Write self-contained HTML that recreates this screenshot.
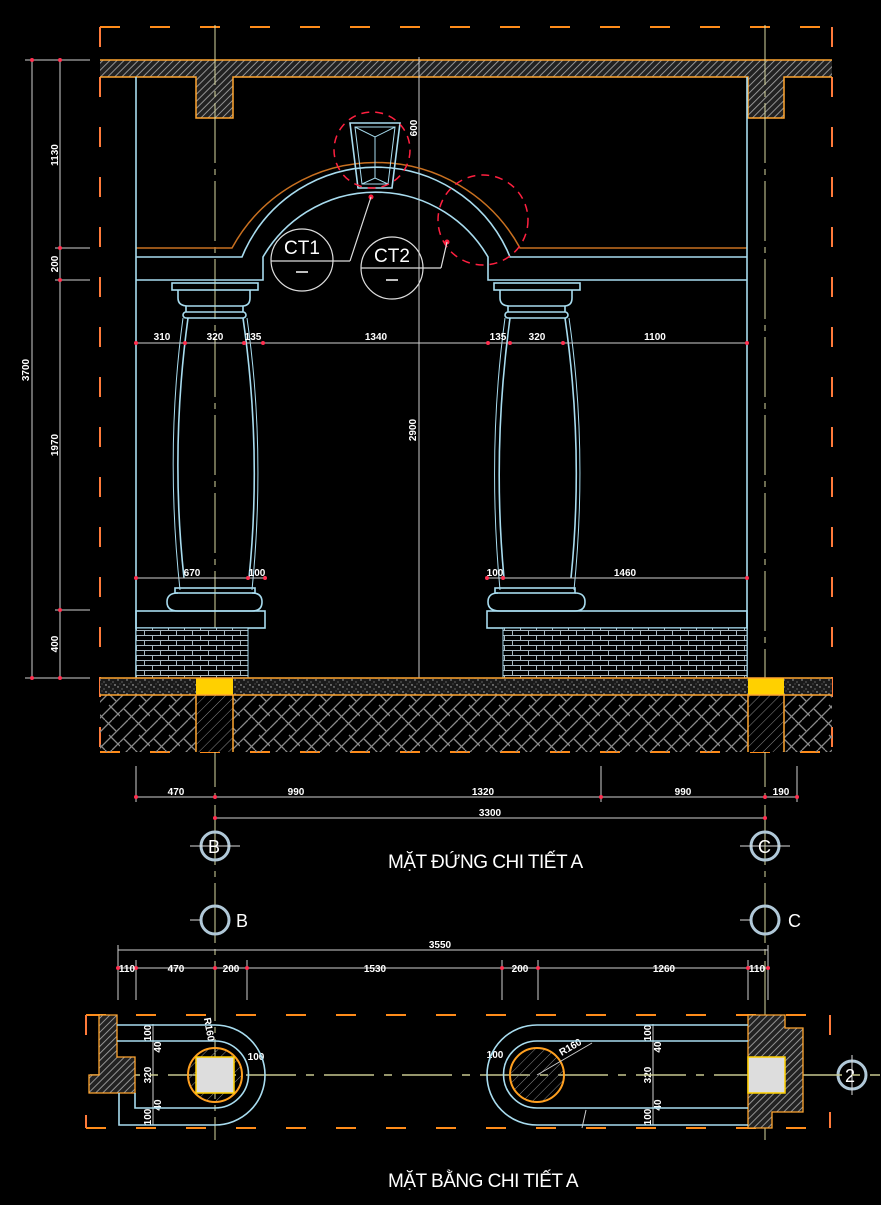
<!DOCTYPE html>
<html><head><meta charset="utf-8"><style>
html,body{margin:0;padding:0;background:#000;}
svg{display:block}
text{font-family:"Liberation Sans",Arial,sans-serif;fill:#fff}
</style></head><body>
<svg width="881" height="1205" viewBox="0 0 881 1205" xmlns="http://www.w3.org/2000/svg">
<defs>
<pattern id="hat" width="5" height="5" patternUnits="userSpaceOnUse" patternTransform="rotate(45)">
<rect width="5" height="5" fill="#222"/><line x1="0" y1="0" x2="0" y2="5" stroke="#a0a0a0" stroke-width="1.8"/></pattern>
<pattern id="hat2" width="7" height="7" patternUnits="userSpaceOnUse" patternTransform="rotate(45)">
<line x1="0" y1="0" x2="0" y2="7" stroke="#888" stroke-width="1"/></pattern>
<pattern id="herr" width="30" height="30" patternUnits="userSpaceOnUse">
<g stroke="#8a8a8a" stroke-width="1.3" fill="none">
<path d="M0 8 L8 0 M0 22 L22 0 M8 30 L30 8 M22 30 L30 22"/>
<path d="M4 19 L15 30 M15 0 L26 11 M19 15 L30 26"/>
</g></pattern>
<pattern id="spk" width="9" height="7" patternUnits="userSpaceOnUse">
<rect width="9" height="7" fill="#1a1a1a"/>
<circle cx="1" cy="1" r="0.7" fill="#bbb"/><circle cx="5" cy="3" r="0.6" fill="#999"/><circle cx="7" cy="6" r="0.7" fill="#ccc"/><circle cx="3" cy="5" r="0.5" fill="#888"/></pattern>
<pattern id="brk" width="16" height="10" patternUnits="userSpaceOnUse">
<rect width="16" height="10" fill="#000"/>
<g stroke="#a8b8c0" stroke-width="1"><line x1="0" y1="0.5" x2="16" y2="0.5"/><line x1="0" y1="5.5" x2="16" y2="5.5"/>
<line x1="0.5" y1="0" x2="0.5" y2="5"/><line x1="8.5" y1="5" x2="8.5" y2="10"/></g></pattern>
</defs>

<g stroke="#ff8c1a" stroke-width="2" fill="none" stroke-dasharray="20,30">
<line x1="100" y1="27" x2="832" y2="27"/>
<line x1="100" y1="752" x2="832" y2="752"/>
</g>
<g stroke="#ff7a3a" stroke-width="2" fill="none" stroke-dasharray="20,30">
<line x1="100" y1="27" x2="100" y2="752"/>
<line x1="832" y1="27" x2="832" y2="752"/>
</g>
<rect x="100" y="60" width="732" height="17" fill="url(#hat)"/>
<rect x="196" y="77" width="37" height="41" fill="url(#hat)"/>
<rect x="748" y="77" width="36" height="41" fill="url(#hat)"/>
<g stroke="#ffa530" stroke-width="1.5" fill="none">
<line x1="100" y1="60" x2="832" y2="60"/>
<polyline points="100,77 196,77 196,118 233,118 233,77 748,77 748,118 784,118 784,77 832,77"/>
</g>
<g stroke="#d8d8a0" stroke-width="1" stroke-dasharray="60,6,6,6">
<line x1="215" y1="25" x2="215" y2="1140"/>
<line x1="765" y1="25" x2="765" y2="1140"/>
</g>
<line x1="419" y1="57" x2="419" y2="680" stroke="#ccc" stroke-width="1"/>

<path d="M136 248 L232 248 A164 164 0 0 1 520 248 L747 248" stroke="#c87020" stroke-width="1.5" fill="none"/>
<g stroke="#a8dcef" stroke-width="1.6" fill="none">
<line x1="136" y1="77" x2="136" y2="678"/>
<line x1="747" y1="77" x2="747" y2="678"/>
<path d="M136 257 L242 257 L245 250 A145 145 0 0 1 507 250 L510 257 L747 257"/>
<path d="M136 280 L263 280 L263 257 A130 130 0 0 1 488 257 L488 280 L747 280"/>
<rect x="172" y="283" width="86" height="7"/>
<path d="M178 290 L178 298 Q178 306 188 306 L242 306 Q250 306 250 298 L250 290"/>
<rect x="183" y="312" width="63" height="6" rx="3"/>
<line x1="186" y1="306" x2="186" y2="312"/><line x1="243" y1="306" x2="243" y2="312"/>
<path d="M188 318 Q170 450 184 578 M243 318 Q262 450 249 578"/>
<path d="M183 318 Q165 450 180 590 M247 318 Q266 450 252 590" stroke-width="1"/>
<rect x="175" y="588" width="80" height="5"/>
<path d="M178 593 Q167 593 167 602 Q167 611 178 611 L252 611 Q262 611 262 602 Q262 593 252 593"/>
<rect x="136" y="611" width="129" height="17"/>
<rect x="494" y="283" width="86" height="7"/>
<path d="M500 290 L500 298 Q500 306 510 306 L564 306 Q572 306 572 298 L572 290"/>
<rect x="505" y="312" width="63" height="6" rx="3"/>
<line x1="508" y1="306" x2="508" y2="312"/><line x1="565" y1="306" x2="565" y2="312"/>
<path d="M510 318 Q492 450 504 578 M565 318 Q584 450 571 578"/>
<path d="M505 318 Q487 450 500 590 M569 318 Q588 450 574 590" stroke-width="1"/>
<rect x="495" y="588" width="80" height="5"/>
<path d="M498 593 Q488 593 488 602 Q488 611 500 611 L575 611 Q585 611 585 602 Q585 593 575 593"/>
<rect x="487" y="611" width="260" height="17"/>
<path d="M350 123 L400 123 L392 188 L358 188 Z"/>
<path d="M355 127 L395 127 L388 184 L362 184 Z" stroke-width="1"/>
<path d="M355 127 L375 137 L395 127 M375 137 L375 178 M362 184 L375 178 L388 184" stroke-width="1"/>
</g>
<rect x="136" y="628" width="112" height="50" fill="url(#brk)" stroke="#a8dcef"/>
<rect x="503" y="628" width="244" height="50" fill="url(#brk)" stroke="#a8dcef"/>

<g stroke="#ff2040" stroke-width="1.5" fill="none" stroke-dasharray="8,6">
<circle cx="372" cy="150" r="38"/>
<circle cx="483" cy="220" r="45"/>
</g>
<circle cx="371" cy="197" r="2.5" fill="#ff2040"/>
<circle cx="447" cy="242" r="2.5" fill="#ff2040"/>
<g stroke="#ddd" stroke-width="1.2" fill="none">
<circle cx="302" cy="260" r="31"/><line x1="271" y1="261" x2="350" y2="261"/><polyline points="350,261 371,197"/>
<circle cx="392" cy="268" r="31"/><line x1="361" y1="268" x2="441" y2="268"/><polyline points="441,268 447,242"/>
</g>
<text x="302" y="254" font-size="19" text-anchor="middle">CT1</text>
<line x1="296" y1="272" x2="308" y2="272" stroke="#fff" stroke-width="1.5"/>
<text x="392" y="262" font-size="19" text-anchor="middle">CT2</text>
<line x1="386" y1="280" x2="398" y2="280" stroke="#fff" stroke-width="1.5"/>
<text transform="translate(417,128) rotate(-90)" font-size="10" font-weight="bold" text-anchor="middle">600</text>

<rect x="100" y="678" width="732" height="17" fill="url(#spk)"/>
<rect x="100" y="695" width="732" height="57" fill="url(#herr)"/>
<rect x="196" y="695" width="37" height="57" fill="#000"/><rect x="196" y="695" width="37" height="57" fill="url(#hat2)"/>
<rect x="748" y="695" width="36" height="57" fill="#000"/><rect x="748" y="695" width="36" height="57" fill="url(#hat2)"/>
<rect x="196" y="678" width="37" height="17" fill="#ffd000"/>
<rect x="748" y="678" width="36" height="17" fill="#ffd000"/>
<g stroke="#ffa530" stroke-width="1.5" fill="none">
<line x1="100" y1="678" x2="832" y2="678"/><line x1="100" y1="695" x2="832" y2="695"/>
<line x1="196" y1="695" x2="196" y2="752"/><line x1="233" y1="695" x2="233" y2="752"/>
<line x1="748" y1="695" x2="748" y2="752"/><line x1="784" y1="695" x2="784" y2="752"/>
</g>

<g stroke="#cfcfcf" stroke-width="1" fill="none">
<line x1="136" y1="343" x2="747" y2="343"/>
<line x1="136" y1="578" x2="265" y2="578"/><line x1="487" y1="578" x2="747" y2="578"/>
<line x1="32" y1="60" x2="32" y2="678"/><line x1="60" y1="60" x2="60" y2="678"/>
<line x1="25" y1="60" x2="90" y2="60"/><line x1="25" y1="678" x2="90" y2="678"/>
<line x1="55" y1="248" x2="90" y2="248"/><line x1="55" y1="280" x2="90" y2="280"/><line x1="55" y1="610" x2="90" y2="610"/>
<line x1="136" y1="797" x2="797" y2="797"/><line x1="215" y1="818" x2="765" y2="818"/>
<line x1="136" y1="766" x2="136" y2="802"/><line x1="601" y1="766" x2="601" y2="802"/><line x1="797" y1="766" x2="797" y2="802"/>
<line x1="118" y1="950" x2="768" y2="950"/><line x1="118" y1="968" x2="768" y2="968"/>
<line x1="118" y1="945" x2="118" y2="1000"/><line x1="136" y1="960" x2="136" y2="1000"/><line x1="247" y1="960" x2="247" y2="1000"/>
<line x1="502" y1="960" x2="502" y2="1000"/><line x1="538" y1="960" x2="538" y2="1000"/><line x1="748" y1="960" x2="748" y2="1000"/><line x1="768" y1="945" x2="768" y2="1000"/>
<line x1="153" y1="1024" x2="153" y2="1125"/><line x1="653" y1="1024" x2="653" y2="1125"/>
</g>
<g fill="#ff3050">
<circle cx="136" cy="343" r="2"/><circle cx="185" cy="343" r="2"/><circle cx="244" cy="343" r="2"/><circle cx="263" cy="343" r="2"/><circle cx="488" cy="343" r="2"/><circle cx="510" cy="343" r="2"/><circle cx="563" cy="343" r="2"/><circle cx="747" cy="343" r="2"/>
<circle cx="136" cy="578" r="2"/><circle cx="248" cy="578" r="2"/><circle cx="265" cy="578" r="2"/><circle cx="487" cy="578" r="2"/><circle cx="503" cy="578" r="2"/><circle cx="747" cy="578" r="2"/>
<circle cx="32" cy="60" r="2"/><circle cx="32" cy="678" r="2"/><circle cx="60" cy="60" r="2"/><circle cx="60" cy="248" r="2"/><circle cx="60" cy="280" r="2"/><circle cx="60" cy="610" r="2"/><circle cx="60" cy="678" r="2"/>
<circle cx="136" cy="797" r="2"/><circle cx="215" cy="797" r="2"/><circle cx="601" cy="797" r="2"/><circle cx="765" cy="797" r="2"/><circle cx="797" cy="797" r="2"/><circle cx="215" cy="818" r="2"/><circle cx="765" cy="818" r="2"/>
<circle cx="118" cy="968" r="2"/><circle cx="136" cy="968" r="2"/><circle cx="215" cy="968" r="2"/><circle cx="247" cy="968" r="2"/><circle cx="502" cy="968" r="2"/><circle cx="538" cy="968" r="2"/><circle cx="748" cy="968" r="2"/><circle cx="768" cy="968" r="2"/>
</g>
<g font-size="10" font-weight="bold" text-anchor="middle">
<text x="162" y="340">310</text><text x="215" y="340">320</text><text x="253" y="340">135</text><text x="376" y="340">1340</text>
<text x="498" y="340">135</text><text x="537" y="340">320</text><text x="655" y="340">1100</text>
<text x="192" y="576">670</text><text x="257" y="576">100</text><text x="495" y="576">100</text><text x="625" y="576">1460</text>
<text x="176" y="795">470</text><text x="296" y="795">990</text><text x="483" y="795">1320</text><text x="683" y="795">990</text><text x="781" y="795">190</text>
<text x="490" y="816">3300</text>
<text x="440" y="948">3550</text>
<text x="127" y="972">110</text><text x="176" y="972">470</text><text x="231" y="972">200</text><text x="375" y="972">1530</text><text x="520" y="972">200</text><text x="664" y="972">1260</text><text x="757" y="972">110</text>
<text transform="translate(29,370) rotate(-90)">3700</text>
<text transform="translate(58,155) rotate(-90)">1130</text>
<text transform="translate(58,264) rotate(-90)">200</text>
<text transform="translate(58,445) rotate(-90)">1970</text>
<text transform="translate(58,644) rotate(-90)">400</text>
<text transform="translate(416,430) rotate(-90)">2900</text>
<text transform="translate(151,1033) rotate(-90)">100</text><text transform="translate(161,1047) rotate(-90)">40</text>
<text transform="translate(151,1075) rotate(-90)">320</text><text transform="translate(161,1105) rotate(-90)">40</text><text transform="translate(151,1117) rotate(-90)">100</text>
<text transform="translate(651,1033) rotate(-90)">100</text><text transform="translate(661,1047) rotate(-90)">40</text>
<text transform="translate(651,1075) rotate(-90)">320</text><text transform="translate(661,1105) rotate(-90)">40</text><text transform="translate(651,1117) rotate(-90)">100</text>
<text x="256" y="1060">100</text><text x="495" y="1058">100</text>
<text transform="translate(206,1030) rotate(80)">R160</text>
<text transform="translate(572,1050) rotate(-30)">R160</text>
</g>

<g stroke="#b0c8d8" stroke-width="3" fill="none">
<circle cx="215" cy="846" r="14"/><circle cx="765" cy="846" r="14"/>
<circle cx="215" cy="920" r="14"/><circle cx="765" cy="920" r="14"/>
<circle cx="852" cy="1075" r="14"/>
</g>
<g stroke="#ddd" stroke-width="1">
<line x1="190" y1="846" x2="240" y2="846"/><line x1="740" y1="846" x2="790" y2="846"/>
<line x1="190" y1="920" x2="200" y2="920"/><line x1="740" y1="920" x2="750" y2="920"/>
<line x1="852" y1="1055" x2="852" y2="1095"/>
</g>
<g font-size="18">
<text x="208" y="853">B</text><text x="758" y="853">C</text>
<text x="236" y="927">B</text><text x="788" y="927">C</text>
<text x="845" y="1082">2</text>
</g>
<text x="388" y="868" font-size="19" letter-spacing="-0.5">MẶT ĐỨNG CHI TIẾT A</text>
<text x="388" y="1187" font-size="19" letter-spacing="-0.5">MẶT BẰNG CHI TIẾT A</text>

<g stroke="#ff8c1a" stroke-width="2" fill="none" stroke-dasharray="20,30">
<line x1="86" y1="1015" x2="832" y2="1015"/><line x1="86" y1="1128" x2="832" y2="1128"/>
</g>
<g stroke="#ff7a3a" stroke-width="2">
<line x1="86" y1="1015" x2="86" y2="1035"/><line x1="86" y1="1115" x2="86" y2="1128"/>
<line x1="830" y1="1015" x2="830" y2="1035"/><line x1="830" y1="1112" x2="830" y2="1128"/>
</g>
<line x1="90" y1="1075" x2="880" y2="1075" stroke="#c8c890" stroke-width="1.5" stroke-dasharray="50,10,8,10"/>
<path d="M99 1015 L117 1015 L117 1057 L135 1057 L135 1093 L89 1093 L89 1075 L99 1075 Z" fill="url(#hat)" stroke="#ffa530" stroke-width="1.3"/>
<path d="M748 1015 L785 1015 L785 1028 L803 1028 L803 1112 L772 1112 L772 1128 L748 1128 Z" fill="url(#hat)" stroke="#ffa530" stroke-width="1.3"/>
<g stroke="#a8dcef" stroke-width="1.6" fill="none">
<path d="M119 1093 L119 1125 L215 1125 A50 50 0 0 0 215 1025 L117 1025"/>
<path d="M135 1093 L135 1108 L215 1108 A33 33 0 0 0 215 1041 L117 1041"/>
<path d="M748 1025 L537 1025 A50 50 0 0 0 537 1125 L748 1125"/>
<path d="M748 1041 L537 1041 A33 33 0 0 0 537 1108 L748 1108"/>
</g>
<circle cx="215" cy="1075" r="27" fill="url(#hat2)" stroke="#ffa020" stroke-width="2"/>
<rect x="196" y="1057" width="38" height="36" fill="#ddd" stroke="#ffd000" stroke-width="1.5"/>
<circle cx="537" cy="1075" r="27" fill="url(#hat2)" stroke="#ffa020" stroke-width="2"/>
<rect x="748" y="1057" width="37" height="36" fill="#ddd" stroke="#ffd000" stroke-width="1.5"/>
<line x1="537" y1="1075" x2="592" y2="1043" stroke="#ccc"/>
<line x1="586" y1="1110" x2="582" y2="1128" stroke="#ccc"/>
</svg>
</body></html>
